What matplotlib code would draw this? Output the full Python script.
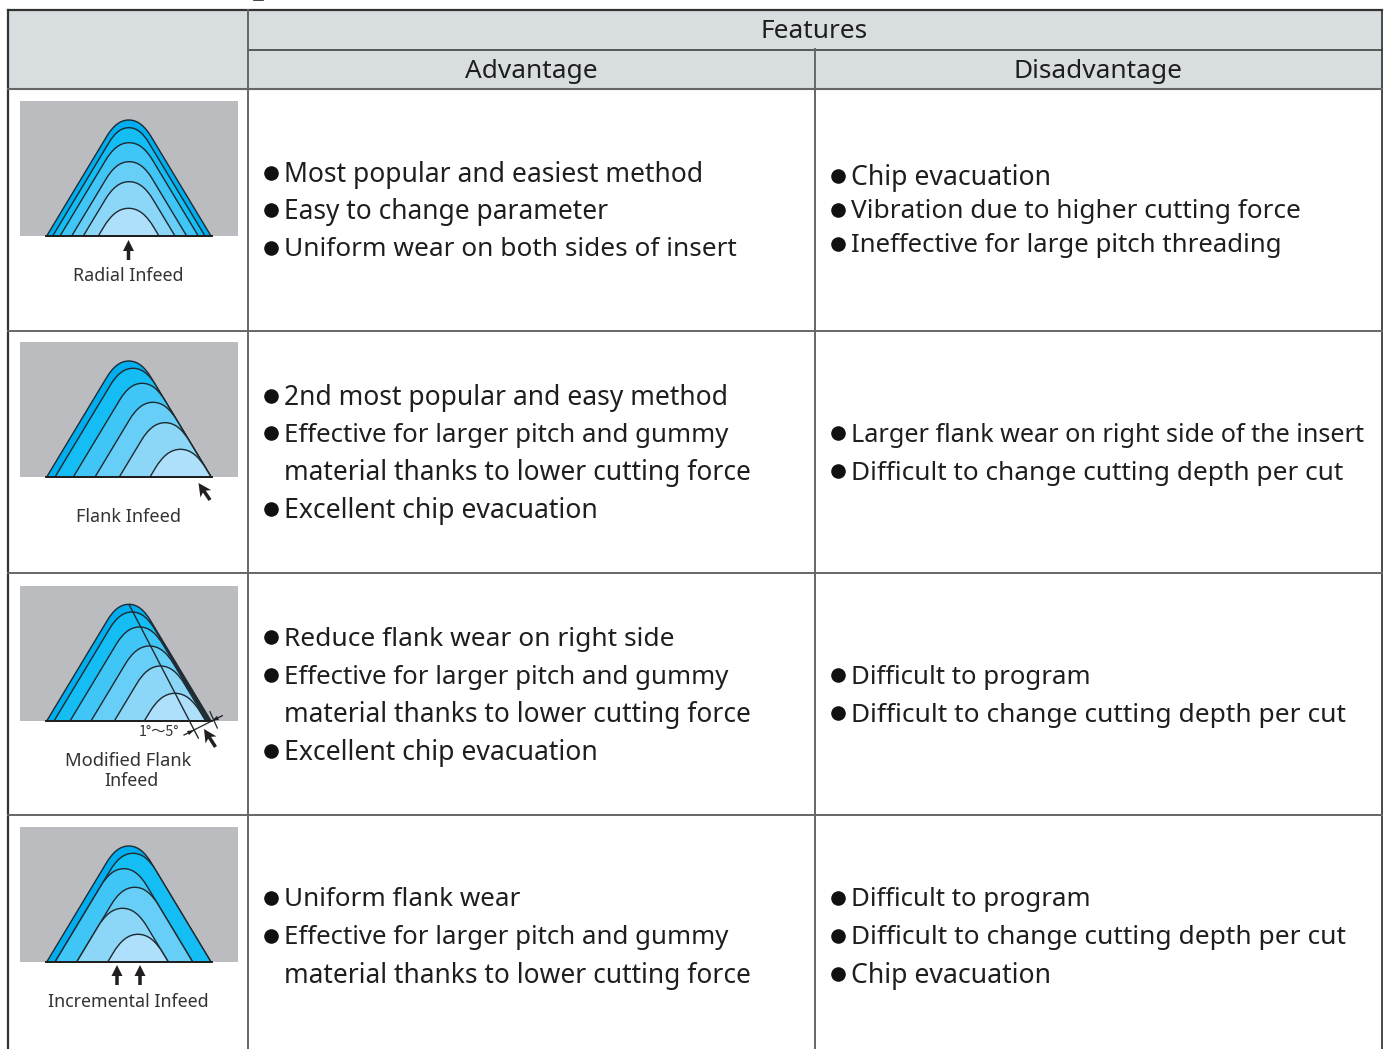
import numpy as np
import matplotlib
matplotlib.use("Agg")
import matplotlib.pyplot as plt
from matplotlib.path import Path
from matplotlib.patches import PathPatch, Rectangle, FancyArrow

plt.rcParams['font.family'] = ['Noto Sans', 'DejaVu Sans']

header_top = "Features"
header_cols = ["Advantage", "Disadvantage"]
infeed_names = ["Radial Infeed", "Flank Infeed", "Modified Flank\nInfeed", "Incremental Infeed"]

adv_text = [
    ["Most popular and easiest method", "Easy to change parameter", "Uniform wear on both sides of insert"],
    ["2nd most popular and easy method", "Effective for larger pitch and gummy",
     "material thanks to lower cutting force", "Excellent chip evacuation"],
    ["Reduce flank wear on right side", "Effective for larger pitch and gummy",
     "material thanks to lower cutting force", "Excellent chip evacuation"],
    ["Uniform flank wear", "Effective for larger pitch and gummy", "material thanks to lower cutting force"],
]
dis_text = [
    ["Chip evacuation", "Vibration due to higher cutting force", "Ineffective for large pitch threading"],
    ["Larger flank wear on right side of the insert", "Difficult to change cutting depth per cut"],
    ["Difficult to program", "Difficult to change cutting depth per cut"],
    ["Difficult to program", "Difficult to change cutting depth per cut", "Chip evacuation"],
]
# which lines carry a bullet
adv_bullet = [[1, 1, 1], [1, 1, 0, 1], [1, 1, 0, 1], [1, 1, 0]]
dis_bullet = [[1, 1, 1], [1, 1], [1, 1], [1, 1, 1]]

# thread profiles (pixels): left foot, right foot, crest
radial_left = [46.7, 52.7, 60, 71.7, 83.3, 98.3]
radial_right = [211, 205, 198.3, 186.7, 175, 159]
radial_top = [120, 127.7, 142.7, 161.7, 181.7, 208.3]

flank_left = [46.7, 55, 73.3, 95, 119.3, 150]
flank_right = [211, 211, 211, 211, 211, 211]
flank_top = [361, 368.3, 383.3, 402.3, 422.7, 449.3]

modified_left = [46.7, 54, 70, 91, 114.3, 144.3]
modified_right = [211, 210, 209, 208, 206.7, 205.7]
modified_top = [604.3, 612, 627, 646, 666, 693.3]

incr_left = [46.7, 55, 55, 76.7, 76.7, 107.7]
incr_right = [211, 211, 192.7, 192.7, 168.3, 168.3]
incr_top = [846, 853.3, 868.7, 887.3, 908.3, 934.3]

profile_colors = ["#00aeef", "#14bdf4", "#40c6f6", "#67cef7", "#8cd7f8", "#aee0fb"]

# layout
adv_y = [[175, 212, 250], [398, 435, 473, 511], [639, 677, 715, 753], [900, 938, 976]]
dis_y = [[178, 212, 246], [435, 473], [677, 715], [900, 938, 976]]
adv_end = [[703, 608, 737], [728, 729, 750, 598], [674, 729, 750, 598], [520, 729, 750]]
dis_end = [[1051, 1301, 1282], [1365, 1343], [1091, 1345], [1091, 1345, 1051]]
bullet_off = -2
grey_y = [(101, 236), (342, 477), (586, 721), (827, 962)]
label_y = [[276], [517], [761, 781], [1002]]
label_x = [[128.5], [128.5], [128.5, 131.5], [128.5]]
label_fs = [[12.8], [13.0], [13.2, 12.8], [12.8]]
row_lines = [331, 573, 815]
line_col = "#4a4a4a"
text_col = "#1e1e1e"
fs = 19.1

fig = plt.figure(figsize=(13.92, 10.49), dpi=100)
ax = fig.add_axes([0, 0, 1, 1])
ax.set_xlim(0, 1392)
ax.set_ylim(1049, 0)
ax.axis("off")


def profile(xl, xr, top, base):
    # straight flanks running into a rounded crest
    slope = 1.66
    xc = (xl + xr) / 2
    half = (xr - xl) / 2
    height = base - top
    L = half - height / slope      # where the flanks would meet the crest line
    ux = 1 / np.hypot(1, slope)
    uy = slope * ux
    run = 1.6 * L
    px = run * ux
    py = run * uy
    c1 = 0.38 * run
    verts = [(xl, base), (xc - L - px, top + py),
             (xc - L - c1 * ux, top + c1 * uy), (xc - 0.75 * L, top), (xc, top),
             (xc + 0.75 * L, top), (xc + L + c1 * ux, top + c1 * uy), (xc + L + px, top + py),
             (xr, base), (xl, base)]
    codes = [Path.MOVETO, Path.LINETO, Path.CURVE4, Path.CURVE4, Path.CURVE4,
             Path.CURVE4, Path.CURVE4, Path.CURVE4, Path.LINETO, Path.LINETO]
    return Path(verts, codes)


def arrow(x0, y0, x1, y1, wid=3.5, head=11, hl=11, over=0.0):
    ax.add_patch(FancyArrow(x0, y0, x1 - x0, y1 - y0, width=wid, head_width=head, head_length=hl,
                            length_includes_head=True, overhang=over, color="#231f20", lw=0, zorder=4))


def body_line(x, y, s, end):
    # each line in the source has its own tracking, so fit the size to its width
    t = ax.text(x, y, s, ha="left", va="center", fontsize=fs, color=text_col)
    w = t.get_window_extent(fig.canvas.get_renderer()).width
    t.set_fontsize(fs * (end - x) / w)


# header fill
ax.add_patch(Rectangle((8, 10), 1374, 79, fc="#d8dde0", ec="none"))

# thread diagrams
sets = [(radial_left, radial_right, radial_top), (flank_left, flank_right, flank_top),
        (modified_left, modified_right, modified_top), (incr_left, incr_right, incr_top)]
for (left, right, top), (g0, g1) in zip(sets, grey_y):
    ax.add_patch(Rectangle((20, g0), 218, g1 - g0, fc="#bbbcbf", ec="none"))
    for xl, xr, t, c in zip(left, right, top, profile_colors):
        ax.add_patch(PathPatch(profile(xl, xr, t, g1), fc=c, ec="#1f2a30", lw=1.0, joinstyle="round", zorder=2))
    ax.plot([46, 212], [g1, g1], color="#1f1f1f", lw=1.4, zorder=3)

# modified flank extras
ax.plot([129.3, 198.3], [605, 738], color="#1f2a30", lw=1.0, zorder=3)
ax.plot([210, 217.3], [711.7, 728], color="#1f2a30", lw=0.9, zorder=3)
ax.plot([184, 222.3], [735, 715.7], color="#1f2a30", lw=0.9, zorder=3)
arrow(184, 735, 194.3, 730, wid=0.5, head=4.5, hl=7)
arrow(222.3, 715.7, 211.7, 721, wid=0.5, head=4.5, hl=7)
ax.text(159, 731.5, "1°～5°", ha="center", va="center", fontsize=10.3, color="#333333",
        family=['Noto Sans CJK JP', 'DejaVu Sans'])

# infeed arrows
arrow(128.5, 260, 128.5, 240)
arrow(210, 500, 198.5, 483, wid=3.5, head=13, hl=13, over=0.2)
arrow(215.5, 747, 204, 729, wid=3.5, head=13, hl=13, over=0.2)
arrow(117, 985, 117, 965)
arrow(140, 985, 140, 965)

# labels under the diagrams
for names, xs, ys, sizes in zip(infeed_names, label_x, label_y, label_fs):
    for part, x, y, size in zip(names.split("\n"), xs, ys, sizes):
        ax.text(x, y, part, ha="center", va="center", fontsize=size, color="#333333")

# header text
ax.text(814.5, 32, header_top, ha="center", va="center", fontsize=18.9, color=text_col)
ax.text(531, 72, header_cols[0], ha="center", va="center", fontsize=18.9, color=text_col)
ax.text(1098, 72, header_cols[1], ha="center", va="center", fontsize=18.9, color=text_col)

# body text
for lines, marks, ys, ends in zip(adv_text, adv_bullet, adv_y, adv_end):
    for s, m, y, e in zip(lines, marks, ys, ends):
        body_line(284, y, s, e)
        if m:
            ax.plot(271, y + bullet_off, "o", ms=10.5, color="#111111", mew=0)
for lines, marks, ys, ends in zip(dis_text, dis_bullet, dis_y, dis_end):
    for s, m, y, e in zip(lines, marks, ys, ends):
        body_line(851, y, s, e)
        if m:
            ax.plot(838, y + bullet_off, "o", ms=10.5, color="#111111", mew=0)

# grid lines
ax.plot([8, 8], [10, 1049], color="#333333", lw=1.6)
ax.plot([1382, 1382], [10, 1049], color=line_col, lw=1.4)
ax.plot([8, 1382], [10, 10], color="#333333", lw=1.6)
ax.plot([248, 1382], [49.5, 49.5], color="#333333", lw=1.1)
ax.plot([8, 1382], [89, 89], color="#666666", lw=1.5)
for y in row_lines:
    ax.plot([8, 1382], [y, y], color="#666666", lw=1.4)
ax.plot([248, 248], [10, 1049], color="#666666", lw=1.4)
ax.plot([815, 815], [49, 1049], color="#666666", lw=1.4)

# bit of the clipped heading above the table
ax.plot([254, 263], [0, 0], color="#222222", lw=1.2)

fig.savefig("out.png", dpi=100)
